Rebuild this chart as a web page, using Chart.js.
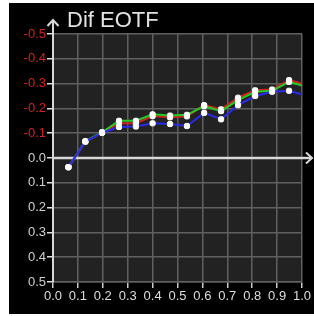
<!DOCTYPE html>
<html>
<head>
<meta charset="utf-8">
<script src="https://cdn.jsdelivr.net/npm/chart.js@4/dist/chart.umd.min.js"></script>
<style>
html,body{margin:0;padding:0;background:#fff;}
canvas{display:block;}
</style>
</head>
<body>
<canvas id="c" width="314" height="316"></canvas>
<script>
const titleText = "Dif EOTF";
const xValues = [0.062, 0.13, 0.197, 0.265, 0.333, 0.40, 0.47, 0.538, 0.607, 0.675, 0.743, 0.812, 0.88, 0.948, 1.0];
const redValues = [0.037, -0.066, -0.102, -0.14, -0.14, -0.169, -0.164, -0.168, -0.213, -0.196, -0.243, -0.273, -0.276, -0.314, -0.30];
const greenValues = [0.037, -0.068, -0.104, -0.15, -0.15, -0.176, -0.171, -0.174, -0.209, -0.189, -0.233, -0.267, -0.271, -0.307, -0.292];
const blueValues = [0.037, -0.066, -0.102, -0.125, -0.127, -0.14, -0.137, -0.129, -0.182, -0.156, -0.213, -0.25, -0.267, -0.271, -0.256];
const markerCount = 14; // last point has no marker

function toPts(vals){ return vals.map((v,i)=>({x:xValues[i], y:v})); }

function ds(label, vals, color){
  return {
    label: label,
    data: toPts(vals),
    borderColor: color,
    backgroundColor: '#ffffff',
    borderWidth: 2,
    pointStyle: 'rectRounded',
    pointRadius: ctx => ctx.dataIndex < markerCount ? 3 : 0,
    pointBackgroundColor: '#ffffff',
    pointBorderColor: '#ffffff',
    pointBorderWidth: 1,
    tension: 0
  };
}

const decor = {
  id: 'decor',
  beforeDraw(chart){
    const c = chart.ctx, a = chart.chartArea;
    c.save();
    c.fillStyle = '#000000';
    c.fillRect(9, 3, 305, 311);
    c.fillStyle = '#222222';
    c.fillRect(a.left, a.top, a.right - a.left, a.bottom - a.top);
    c.restore();
  },
  beforeDatasetsDraw(chart){
    const c = chart.ctx, a = chart.chartArea;
    const y0 = chart.scales.y.getPixelForValue(0);
    c.save();
    c.strokeStyle = '#d8d8d8';
    c.lineWidth = 2.5;
    c.beginPath();
    c.moveTo(a.left, y0);
    c.lineTo(312, y0);
    c.stroke();
    c.lineWidth = 2;
    c.beginPath();
    c.moveTo(306, y0 - 5.5);
    c.lineTo(312, y0);
    c.lineTo(306, y0 + 5.5);
    c.stroke();
    // y axis extension with arrow
    c.beginPath();
    c.moveTo(a.left, a.top);
    c.lineTo(a.left, 20);
    c.stroke();
    c.beginPath();
    c.moveTo(a.left - 5.5, 26);
    c.lineTo(a.left, 20);
    c.lineTo(a.left + 5.5, 26);
    c.stroke();
    c.fillStyle = '#e2e2e2';
    c.font = '22px "Liberation Sans", Arial, sans-serif';
    c.textBaseline = 'alphabetic';
    c.textAlign = 'left';
    c.fillText(titleText, 67, 27);
    c.restore();
  }
};

new Chart(document.getElementById('c'), {
  type: 'line',
  data: {
    datasets: [
      ds('B', blueValues, '#2a2aee'),
      ds('G', greenValues, '#22cc22'),
      ds('R', redValues, '#d42020')
    ]
  },
  options: {
    responsive: false,
    animation: false,
    devicePixelRatio: 1,
    layout: { padding: { top: 34, right: 12, bottom: 0, left: 0 } },
    plugins: { legend: { display: false }, tooltip: { enabled: false }, title: { display: false } },
    scales: {
      x: {
        type: 'linear',
        min: 0, max: 1,
        afterFit(s){ s.height = 34; },
        grid: { color: '#606060', lineWidth: 1.5, tickColor: '#cccccc', tickLength: 6, drawTicks: true },
        border: { color: '#606060', width: 1.5 },
        ticks: {
          stepSize: 0.1, autoSkip: false, maxRotation: 0, padding: 1,
          color: '#dddddd',
          font: { family: '"Liberation Sans", Arial, sans-serif', size: 13 },
          callback: v => Number(v).toFixed(1)
        }
      },
      y: {
        type: 'linear',
        reverse: true,
        min: -0.5, max: 0.5,
        afterFit(s){ s.width = 53; },
        grid: { color: '#606060', lineWidth: 1.5, tickColor: '#dddddd', tickLength: 6, drawTicks: true },
        border: { color: '#d8d8d8', width: 2 },
        ticks: {
          stepSize: 0.1, autoSkip: false, padding: 1,
          color: ctx => (ctx.tick && ctx.tick.value < -0.001) ? '#d42020' : '#d0d0d0',
          font: { family: '"Liberation Sans", Arial, sans-serif', size: 13 },
          callback: v => { const r = Math.round(v*10)/10; return (r === 0 ? 0 : r).toFixed(1); }
        }
      }
    }
  },
  plugins: [decor]
});
</script>
</body>
</html>
